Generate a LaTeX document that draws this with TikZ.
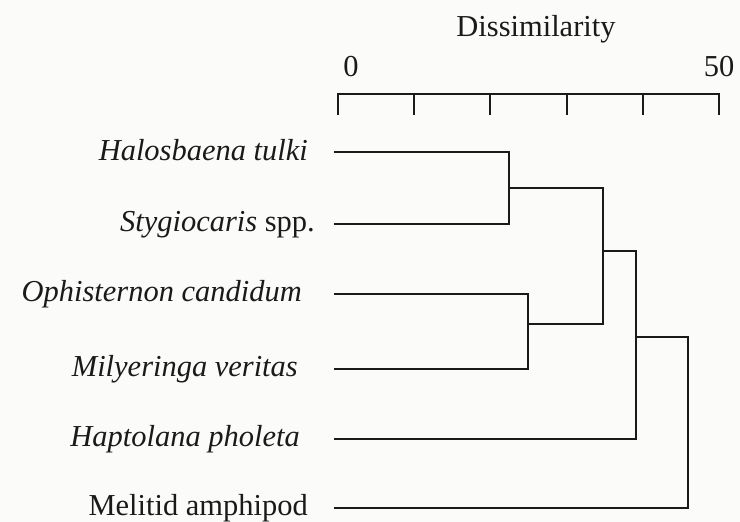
\documentclass[tikz,border=0pt]{standalone}
\usepackage{fontspec}
\setmainfont{Liberation Serif}
\usetikzlibrary{positioning}
\definecolor{paper}{HTML}{FBFBF9}
\definecolor{ink}{HTML}{1A1A1A}
\tikzset{
  treeline/.style={draw=ink, line width=1.6pt},
  taxon/.style={anchor=base east, inner sep=0pt, text=ink,
    font=\fontsize{26}{30}\selectfont\itshape},
  scalelab/.style={anchor=base, inner sep=0pt, text=ink,
    font=\fontsize{26}{30}\selectfont}
}

\begin{document}
\begin{tikzpicture}[x=0.3mm, y=-0.3mm]
  \fill[paper] (0,0) rectangle (740,522);
  \useasboundingbox (0,0) rectangle (740,522);
  % scale bar
  \node[scalelab] (title) at (536,37) {Dissimilarity};
  \node[scalelab] (zero) at (351,77) {0};
  \node[scalelab] (fifty) at (719,77) {50};
  \coordinate (ax0) at (338,94);
  \coordinate (ax50) at (719,94);
  \draw[treeline] (ax0) -- (ax50);
  \foreach \i in {0,...,5} {\draw[treeline] (338+\i*76.2,93.2) -- (338+\i*76.2,115);}
  % taxa
  \node[taxon] (halo) at (308,161) {Halosbaena tulki};
  \node[taxon] (stygio) at (315,232) {Stygiocaris \upshape spp.};
  \node[taxon] (ophi) at (302,302) {Ophisternon candidum};
  \node[taxon] (milye) at (298,376) {Milyeringa veritas};
  \node[taxon] (hapto) at (300,446) {Haptolana pholeta};
  \node[taxon,font=\fontsize{26}{30}\selectfont] (melit) at (308,515) {Melitid amphipod};
  \coordinate (l1) at (334,152);
  \coordinate (l2) at (334,224);
  \coordinate (l3) at (334,294);
  \coordinate (l4) at (334,369);
  \coordinate (l5) at (334,439);
  \coordinate (l6) at (334,508);
  % joins
  \coordinate (j1) at (509,188);
  \coordinate (j2) at (528,324);
  \coordinate (j3) at (603,251);
  \coordinate (j4) at (636,337);
  \coordinate (j5) at (688,420);
  \draw[treeline] (l1) -| (j1) |- (l2);
  \draw[treeline] (l3) -| (j2) |- (l4);
  \draw[treeline] (j1) -| (j3) |- (j2);
  \draw[treeline] (j3) -| (j4) |- (l5);
  \draw[treeline] (j4) -| (j5) |- (l6);
\end{tikzpicture}
\end{document}
